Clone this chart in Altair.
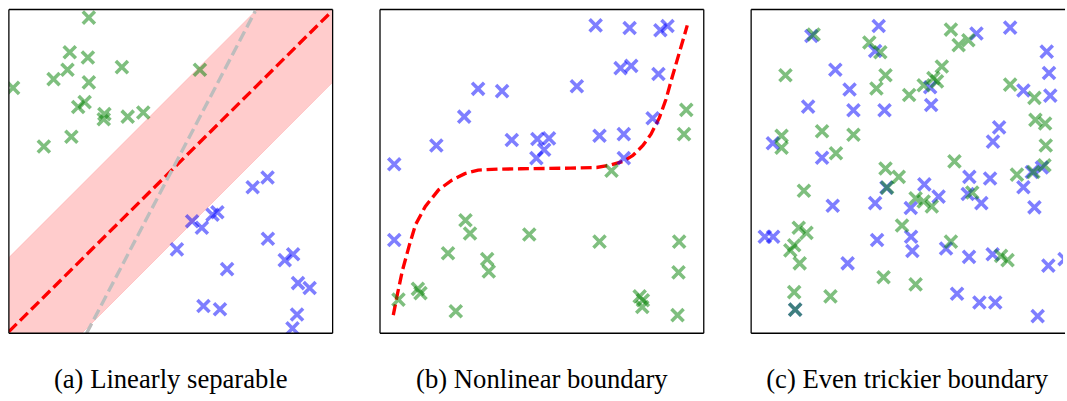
import altair as alt
import pandas as pd

# ---------------- Panel (a): linearly separable ----------------
a_green_x = [2.47, 1.88, 2.44, 3.49, 1.81, 1.38, 2.47, 0.13, 5.90, 2.34, 2.14, 2.95, 2.93, 3.67, 4.15, 1.93, 1.08]
a_green_y = [9.75, 8.68, 8.52, 8.22, 8.14, 7.85, 7.75, 7.58, 8.14, 7.14, 6.99, 6.77, 6.61, 6.69, 6.82, 6.07, 5.77]
a_blue_x = [7.99, 7.53, 6.44, 6.29, 5.66, 5.96, 5.19, 8.00, 8.78, 8.52, 6.74, 8.93, 9.29, 6.01, 6.52, 8.90, 8.76]
a_blue_y = [4.81, 4.51, 3.74, 3.66, 3.46, 3.26, 2.59, 2.92, 2.44, 2.26, 1.98, 1.55, 1.40, 0.84, 0.74, 0.58, 0.15]
a_sep_x = [0.0, 9.95]
a_sep_y = [0.05, 9.92]
a_band_x = [0.0, 10.0]
a_band_lo = [-2.25, 7.75]
a_band_hi = [2.34, 12.34]
a_alt_x = [2.40, 7.61]
a_alt_y = [0.0, 9.95]

# ---------------- Panel (b): nonlinear boundary ----------------
b_blue_x = [6.66, 7.71, 8.66, 8.88, 7.43, 7.76, 8.60, 6.08, 3.03, 3.77, 2.60, 8.42, 1.74, 4.07, 4.86, 5.22, 5.07, 4.83, 6.78, 7.53, 7.53, 0.44, 0.44]
b_blue_y = [9.51, 9.43, 9.36, 9.49, 8.19, 8.26, 8.01, 7.63, 7.55, 7.48, 6.69, 6.64, 5.80, 5.97, 6.00, 6.02, 5.67, 5.41, 6.10, 6.15, 5.41, 5.22, 2.88]
b_green_x = [9.46, 9.39, 7.15, 2.64, 2.78, 4.61, 2.10, 3.31, 3.36, 6.78, 9.24, 9.22, 0.57, 1.17, 1.25, 2.34, 8.02, 8.12, 8.10, 9.19]
b_green_y = [6.90, 6.15, 5.02, 3.49, 3.08, 3.05, 2.47, 2.29, 1.91, 2.83, 2.83, 1.88, 1.04, 1.37, 1.24, 0.68, 1.14, 1.02, 0.81, 0.56]
b_curve_x = [0.41, 0.54, 0.69, 0.90, 1.10, 1.40, 1.81, 2.22, 2.62, 3.03, 3.64, 4.35, 5.07, 5.88, 6.69,
             7.10, 7.51, 7.81, 8.12, 8.37, 8.63, 8.83, 9.03, 9.24, 9.39, 9.49]
b_curve_y = [0.56, 1.22, 1.93, 2.70, 3.36, 3.92, 4.43, 4.73, 4.93, 5.04, 5.07, 5.08, 5.09, 5.10, 5.12,
             5.19, 5.31, 5.49, 5.80, 6.15, 6.66, 7.22, 7.93, 8.65, 9.16, 9.51]

# ---------------- Panel (c): even trickier boundary ----------------
c_blue_x = [3.94, 8.00, 1.86, 6.96, 3.83, 9.13, 2.60, 9.20, 3.04, 5.53, 8.41, 9.24, 1.76, 3.16, 4.12, 5.56, 7.66,
            7.47, 0.67, 2.19, 6.74, 7.38, 8.67, 8.98, 8.41, 5.35, 4.18, 5.79, 6.69, 7.11, 3.83, 4.93, 2.52, 8.75,
            0.42, 0.68, 3.89, 4.94, 4.98, 6.02, 6.73, 7.46, 2.98, 9.18, 9.68, 6.36, 7.05, 7.54, 8.85, 1.36]
c_blue_y = [9.49, 9.44, 9.18, 9.26, 8.72, 8.70, 8.14, 8.04, 7.53, 7.60, 7.50, 7.34, 7.00, 6.89, 6.89, 7.05, 6.36,
            5.92, 5.87, 5.42, 4.83, 4.78, 4.98, 5.12, 4.51, 4.60, 4.50, 4.22, 4.30, 4.02, 4.02, 3.87, 3.94, 3.89,
            2.98, 2.98, 2.88, 2.98, 2.54, 2.62, 2.36, 2.44, 2.16, 2.09, 2.29, 1.22, 0.95, 0.95, 0.53, 0.73]
c_green_x = [1.93, 6.17, 3.65, 3.99, 6.41, 6.71, 1.06, 4.15, 3.87, 5.89, 5.63, 5.74, 5.33, 4.88, 8.00, 8.75, 8.78,
             9.08, 9.10, 0.94, 0.94, 2.19, 3.16, 2.62, 6.28, 4.15, 4.56, 4.20, 8.21, 9.06, 8.72, 1.63, 5.08, 5.33,
             5.58, 6.83, 4.66, 1.47, 1.71, 1.33, 1.21, 1.50, 6.17, 7.72, 7.92, 4.09, 5.08, 1.33, 2.45, 1.36]
c_green_y = [9.23, 9.38, 8.98, 8.68, 8.90, 9.05, 7.97, 7.97, 7.56, 8.24, 7.88, 7.78, 7.66, 7.36, 7.68, 7.27, 6.59,
             6.48, 5.80, 6.10, 5.73, 6.24, 6.13, 5.56, 5.31, 5.09, 4.83, 4.50, 4.90, 5.19, 4.98, 4.40, 4.17, 4.07,
             3.92, 4.35, 3.33, 3.26, 3.10, 2.72, 2.56, 2.16, 2.83, 2.39, 2.26, 1.73, 1.51, 1.27, 1.14, 0.73]

captions = ["(a) Linearly separable", "(b) Nonlinear boundary", "(c) Even trickier boundary"]

XPATH = "M-1,-1L1,1M-1,1L1,-1"
PW, PH = 328, 328
P3W = 316
DASH = [11.1, 4.8]


def points_df(bx, by, gx, gy):
    rows = [{"x": x, "y": y, "cls": "blue"} for x, y in zip(bx, by)]
    rows += [{"x": x, "y": y, "cls": "green"} for x, y in zip(gx, gy)]
    return pd.DataFrame(rows)


def title(txt):
    return alt.TitleParams(txt, orient="bottom", anchor="middle", font="Liberation Serif",
                           fontSize=27, fontWeight="normal", color="black", offset=34)


def point_layer(df, xs, ys):
    return alt.Chart(df).mark_point(
        shape=XPATH, filled=False, strokeWidth=3.6, size=150, strokeCap="butt",
        opacity=0.5, clip=True
    ).encode(
        x=alt.X("x:Q", scale=xs, axis=None),
        y=alt.Y("y:Q", scale=ys, axis=None),
        color=alt.Color("cls:N", scale=alt.Scale(domain=["blue", "green"], range=["#0000ff", "#008000"]),
                        legend=None),
    )


def frame(width, right=True):
    d = pd.DataFrame({"k": [0]})
    parts = [
        alt.Chart(d).mark_rule(color="black", strokeWidth=1.3).encode(
            x=alt.value(0), y=alt.value(0), y2=alt.value(PH)),
        alt.Chart(d).mark_rule(color="black", strokeWidth=1.3).encode(
            x=alt.value(0), x2=alt.value(width), y=alt.value(0)),
        alt.Chart(d).mark_rule(color="black", strokeWidth=1.3).encode(
            x=alt.value(0), x2=alt.value(width), y=alt.value(PH)),
    ]
    if right:
        parts.append(alt.Chart(d).mark_rule(color="black", strokeWidth=1.3).encode(
            x=alt.value(width), y=alt.value(0), y2=alt.value(PH)))
    return parts


xs = alt.Scale(domain=[0, 10], nice=False, zero=False)
ys = alt.Scale(domain=[0, 10], nice=False, zero=False)

# Panel (a)
band_df = pd.DataFrame({"x": a_band_x, "lo": a_band_lo, "hi": a_band_hi})
band = alt.Chart(band_df).mark_area(
    color="red", fillOpacity=0.2, stroke="red", strokeOpacity=0.15, strokeWidth=1, clip=True
).encode(x=alt.X("x:Q", scale=xs, axis=None), y=alt.Y("lo:Q", scale=ys, axis=None), y2="hi:Q")
sep = alt.Chart(pd.DataFrame({"x": a_sep_x, "y": a_sep_y})).mark_line(
    color="red", strokeWidth=3.4, strokeDash=DASH, clip=True
).encode(x=alt.X("x:Q", scale=xs, axis=None), y=alt.Y("y:Q", scale=ys, axis=None))
alt_line = alt.Chart(pd.DataFrame({"x": a_alt_x, "y": a_alt_y})).mark_line(
    color="#bdbdbd", strokeWidth=3.4, strokeDash=DASH, clip=True
).encode(x=alt.X("x:Q", scale=xs, axis=None), y=alt.Y("y:Q", scale=ys, axis=None))
pa = alt.layer(band, sep, alt_line,
               point_layer(points_df(a_blue_x, a_blue_y, a_green_x, a_green_y), xs, ys),
               *frame(PW)).properties(width=PW, height=PH, title=title(captions[0]))

# Panel (b)
curve = alt.Chart(pd.DataFrame({"x": b_curve_x, "y": b_curve_y, "o": list(range(len(b_curve_x)))})).mark_line(
    color="red", strokeWidth=3.4, strokeDash=DASH, clip=True
).encode(x=alt.X("x:Q", scale=xs, axis=None), y=alt.Y("y:Q", scale=ys, axis=None), order="o:Q")
pb = alt.layer(curve, point_layer(points_df(b_blue_x, b_blue_y, b_green_x, b_green_y), xs, ys),
               *frame(PW)).properties(width=PW, height=PH, title=title(captions[1]))

# Panel (c): cut at the right edge like the reference
xs3 = alt.Scale(domain=[0, 10 * P3W / PW], nice=False, zero=False)
pc = alt.layer(point_layer(points_df(c_blue_x, c_blue_y, c_green_x, c_green_y), xs3, ys),
               *frame(P3W + 2, right=False)).properties(width=P3W, height=PH, title=title(captions[2]))

chart = alt.hconcat(pa, pb, pc, spacing=44).properties(
    padding={"left": 7, "top": 5, "right": 0, "bottom": 5}, background="white"
).configure_view(stroke="transparent")

chart.save("out.html", embed_options={"renderer": "svg", "actions": False})
